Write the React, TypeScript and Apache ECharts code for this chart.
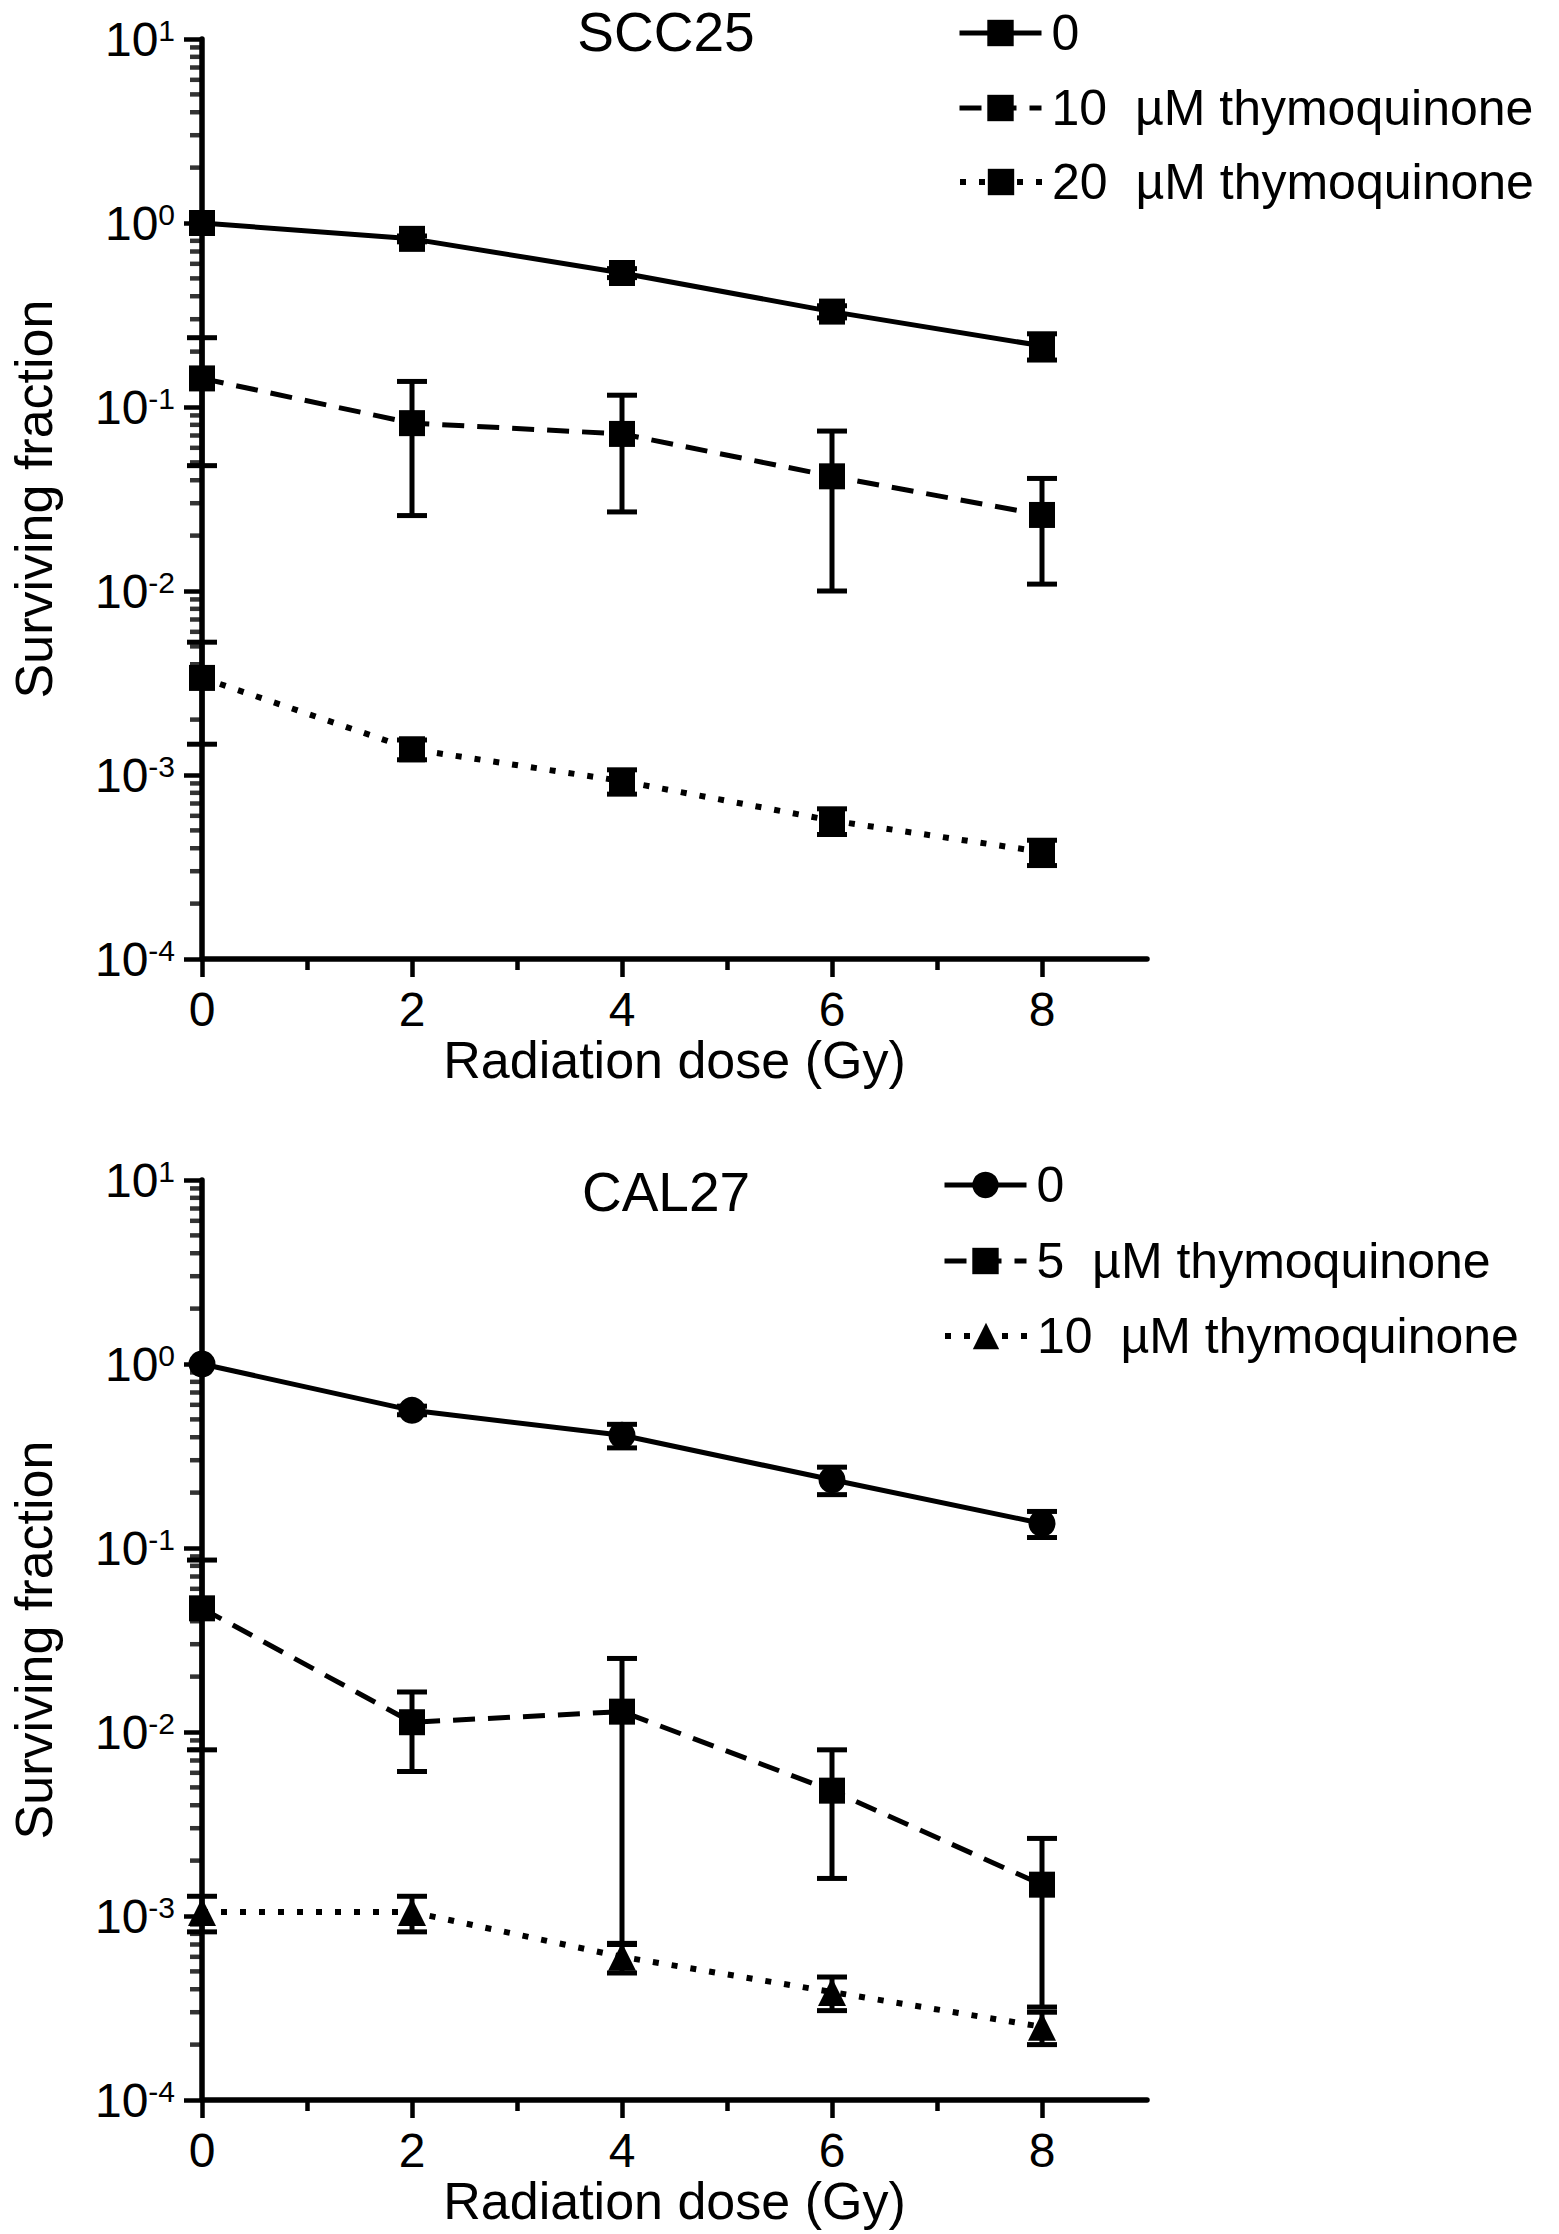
import React, { useEffect, useRef } from 'react';
import * as echarts from 'echarts';

const FONT = '"Liberation Sans", Arial, Helvetica, sans-serif';

// ---- data ----
const doses = [0, 2, 4, 6, 8];
const xTickValues = [0, 2, 4, 6, 8];
const xMinorTickValues = [1, 3, 5, 7];
const yMinorTickValues = [
  2e-4, 3e-4, 4e-4, 5e-4, 6e-4, 7e-4, 8e-4, 9e-4,
  2e-3, 3e-3, 4e-3, 5e-3, 6e-3, 7e-3, 8e-3, 9e-3,
  2e-2, 3e-2, 4e-2, 5e-2, 6e-2, 7e-2, 8e-2, 9e-2,
  0.2, 0.3, 0.4, 0.5, 0.6, 0.7, 0.8, 0.9,
  2, 3, 4, 5, 6, 7, 8, 9,
];

// SCC25
const sccSurvival0 = [1.0, 0.82, 0.535, 0.33, 0.215];
const sccErr0 = [0, 0.03, 0.03, 0.025, 0.035];
const sccSurvival10 = [0.143, 0.0817, 0.0714, 0.042, 0.0259];
const sccErr10 = [0.095, 0.056, 0.0445, 0.032, 0.015];
const sccSurvival20 = [0.00337, 0.00138, 0.000927, 0.000565, 0.000382];
const sccErr20 = [0.0019, 0.00017, 0.00014, 0.00009, 0.00006];

// CAL27
const calSurvival0 = [1.0, 0.56, 0.41, 0.235, 0.136];
const calErr0 = [0, 0.03, 0.06, 0.04, 0.022];
const calSurvival5 = [0.047, 0.0113, 0.0129, 0.0048, 0.00148];
const calErr5 = [0.039, 0.0052, 0.0122, 0.0032, 0.00116];
const calSurvival10 = [0.00105, 0.00105, 0.0006, 0.000386, 0.00025];
const calErr10 = [0.00023, 0.00023, 0.00011, 0.00008, 0.00005];

const legendLabels: Record<string, string> = {
  'scc-0': '0',
  'scc-10': '10  \u00b5M thymoquinone',
  'scc-20': '20  \u00b5M thymoquinone',
  'cal-0': '0',
  'cal-5': '5  \u00b5M thymoquinone',
  'cal-10': '10  \u00b5M thymoquinone',
};

const titles = ['SCC25', 'CAL27'];

// ---- helpers ----
const pairs = (ys: number[]) => doses.map((x, i) => [x, ys[i]]);
const errTriples = (ys: number[], es: number[]) => doses.map((x, i) => [x, ys[i], es[i]]);

const SOLID = 'solid';
const DASHED = [22, 13];
const DOTTED = [6, 13];
const LW = 5;
const LW_DOT = 6;

const errorRender = (params: any, api: any) => {
  const x = api.value(0);
  const y = api.value(1);
  const e = api.value(2);
  if (!(e > 0)) return null;
  const hi = api.coord([x, y + e]);
  const lo = api.coord([x, y - e]);
  const hw = 15;
  const style = { stroke: '#000', lineWidth: 5, fill: null };
  return {
    type: 'group',
    children: [
      { type: 'line', shape: { x1: hi[0], y1: hi[1], x2: lo[0], y2: lo[1] }, style },
      { type: 'line', shape: { x1: hi[0] - hw, y1: hi[1], x2: hi[0] + hw, y2: hi[1] }, style },
      { type: 'line', shape: { x1: lo[0] - hw, y1: lo[1], x2: lo[0] + hw, y2: lo[1] }, style },
    ],
  };
};

function xAxesFor(g: number) {
  return [
    {
      type: 'value',
      gridIndex: g,
      position: 'bottom',
      min: 0,
      max: 9,
      name: 'Radiation dose (Gy)',
      nameLocation: 'middle',
      nameGap: 70,
      nameTextStyle: { fontFamily: FONT, fontSize: 52, color: '#000', lineHeight: 52 },
      axisLine: { show: true, onZero: false, lineStyle: { color: '#000', width: 5.5 } },
      axisTick: { show: true, inside: false, length: 18, customValues: xTickValues, lineStyle: { color: '#000', width: 4.5 } },
      axisLabel: { show: true, margin: 26, customValues: xTickValues, fontFamily: FONT, fontSize: 48, color: '#000' },
      splitLine: { show: false },
    },
    {
      type: 'value',
      gridIndex: g,
      position: 'bottom',
      min: 0,
      max: 9,
      axisLine: { show: false, onZero: false },
      axisTick: { show: true, inside: false, length: 11, customValues: xMinorTickValues, lineStyle: { color: '#000', width: 4.5 } },
      axisLabel: { show: false },
      splitLine: { show: false },
    },
  ];
}

function yAxisFor(g: number) {
  return {
    type: 'log',
    logBase: 10,
    gridIndex: g,
    position: 'left',
    min: 1e-4,
    max: 10,
    splitNumber: 5,
    name: 'Surviving fraction',
    nameLocation: 'middle',
    nameGap: 142,
    nameRotate: 90,
    nameTextStyle: { fontFamily: FONT, fontSize: 52, color: '#000', lineHeight: 52 },
    axisLine: { show: true, onZero: false, lineStyle: { color: '#000', width: 5.5 } },
    axisTick: { show: true, inside: false, length: 18, lineStyle: { color: '#000', width: 4.5 } },
    axisLabel: {
      show: true,
      margin: 27,
      formatter: (v: number) => {
        const e = Math.round(Math.log10(v));
        return '{b|10}{s|' + e + '}';
      },
      rich: {
        b: { fontFamily: FONT, fontSize: 48, color: '#000', lineHeight: 48 },
        s: { fontFamily: FONT, fontSize: 30, color: '#000', lineHeight: 30, verticalAlign: 'top' },
      },
    },
    splitLine: { show: false },
  };
}

function lineSeries(name: string, g: number, ys: number[], symbol: string, size: number, type: any, width: number) {
  return {
    type: 'line',
    name,
    xAxisIndex: g * 2,
    yAxisIndex: g,
    data: pairs(ys),
    symbol,
    symbolSize: size,
    showSymbol: true,
    showAllSymbol: true,
    lineStyle: { color: '#000', width, type, cap: 'butt' },
    itemStyle: { color: '#000' },
    z: 3,
  };
}

function errorSeries(name: string, g: number, ys: number[], es: number[]) {
  return {
    type: 'custom',
    name,
    xAxisIndex: g * 2,
    yAxisIndex: g,
    data: errTriples(ys, es),
    renderItem: errorRender,
    silent: true,
    z: 4,
  };
}

// Minor ticks of the log axis, placed by the axis scale (scatter marks at x = 0)
function minorTickSeries(g: number) {
  return {
    type: 'scatter',
    name: 'minor-ticks-' + g,
    xAxisIndex: g * 2,
    yAxisIndex: g,
    data: yMinorTickValues.map((v) => [0, v]),
    symbol: 'rect',
    symbolSize: [12, 4.5],
    symbolOffset: [-6, 0],
    itemStyle: { color: '#000' },
    clip: false,
    silent: true,
    z: 5,
  };
}

function legendItem(name: string, left: number, centerY: number, width: number) {
  return {
    show: true,
    data: [name],
    left,
    top: centerY - 25,
    orient: 'horizontal',
    padding: 0,
    itemWidth: 82,
    itemHeight: 33,
    selectedMode: false,
    formatter: (n: string) => legendLabels[n],
    lineStyle: { width },
    textStyle: { fontFamily: FONT, fontSize: 50, color: '#000', lineHeight: 50, padding: [0, 0, 0, 5] },
  };
}

const option: any = {
  animation: false,
  backgroundColor: '#fff',
  grid: [
    { left: 193, top: 39, width: 954, height: 920, containLabel: false },
    { left: 193, top: 1180, width: 954, height: 920, containLabel: false },
  ],
  xAxis: [...xAxesFor(0), ...xAxesFor(1)],
  yAxis: [yAxisFor(0), yAxisFor(1)],
  legend: [
    legendItem('scc-0', 957, 33, LW),
    legendItem('scc-10', 957, 108, LW),
    legendItem('scc-20', 957, 182, LW_DOT),
    legendItem('cal-0', 942, 1185, LW),
    legendItem('cal-5', 942, 1261, LW),
    legendItem('cal-10', 942, 1336, LW_DOT),
  ],
  graphic: [
    { type: 'text', x: 666, y: 32, style: { text: titles[0], fontFamily: FONT, fontSize: 55, lineHeight: 46, fill: '#000', align: 'center', verticalAlign: 'middle' } },
    { type: 'text', x: 666, y: 1192, style: { text: titles[1], fontFamily: FONT, fontSize: 55, lineHeight: 46, fill: '#000', align: 'center', verticalAlign: 'middle' } },
  ],
  series: [
    lineSeries('scc-0', 0, sccSurvival0, 'rect', 26, SOLID, LW),
    lineSeries('scc-10', 0, sccSurvival10, 'rect', 26, DASHED, LW),
    lineSeries('scc-20', 0, sccSurvival20, 'rect', 26, DOTTED, LW_DOT),
    errorSeries('scc-0-err', 0, sccSurvival0, sccErr0),
    errorSeries('scc-10-err', 0, sccSurvival10, sccErr10),
    errorSeries('scc-20-err', 0, sccSurvival20, sccErr20),
    minorTickSeries(0),
    lineSeries('cal-0', 1, calSurvival0, 'circle', 27, SOLID, LW),
    lineSeries('cal-5', 1, calSurvival5, 'rect', 26, DASHED, LW),
    lineSeries('cal-10', 1, calSurvival10, 'triangle', 28, DOTTED, LW_DOT),
    errorSeries('cal-0-err', 1, calSurvival0, calErr0),
    errorSeries('cal-5-err', 1, calSurvival5, calErr5),
    errorSeries('cal-10-err', 1, calSurvival10, calErr10),
    minorTickSeries(1),
  ],
};

export default function App() {
  const ref = useRef<HTMLDivElement>(null);
  useEffect(() => {
    if (!ref.current) return;
    const chart = echarts.init(ref.current, null, { renderer: 'svg' });
    chart.setOption(option);
    return () => chart.dispose();
  }, []);
  return (
    <div
      ref={ref}
      style={{ position: 'absolute', left: 0, top: 0, width: 1559, height: 2234, background: '#fff' }}
    />
  );
}
